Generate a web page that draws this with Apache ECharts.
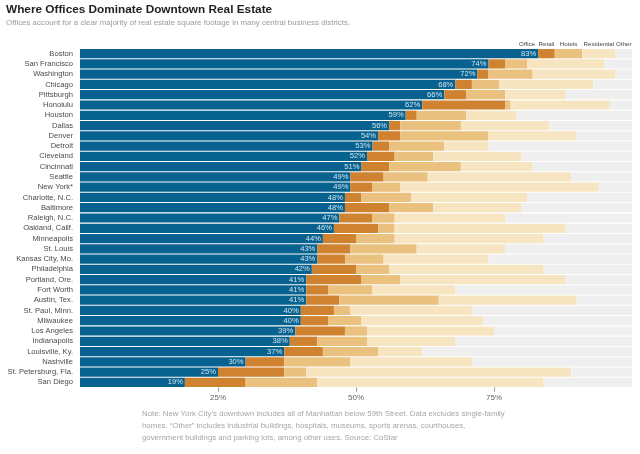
<!DOCTYPE html>
<html>
<head>
<meta charset="utf-8">
<script src="https://cdn.jsdelivr.net/npm/echarts@6/dist/echarts.min.js"></script>
<style>
html, body { margin: 0; padding: 0; background: #fff; }
#chart { width: 640px; height: 454px; }
</style>
</head>
<body>
<div id="chart"></div>
<script>
// share of downtown square footage, %
var cities = ['Boston', 'San Francisco', 'Washington', 'Chicago', 'Pittsburgh', 'Honolulu', 'Houston', 'Dallas',
    'Denver', 'Detroit', 'Cleveland', 'Cincinnati', 'Seattle', 'New York*', 'Charlotte, N.C.', 'Baltimore',
    'Raleigh, N.C.', 'Oakland, Calif.', 'Minneapolis', 'St. Louis', 'Kansas City, Mo.', 'Philadelphia',
    'Portland, Ore.', 'Fort Worth', 'Austin, Tex.', 'St. Paul, Minn.', 'Milwaukee', 'Los Angeles',
    'Indianapolis', 'Louisville, Ky.', 'Nashville', 'St. Petersburg, Fla.', 'San Diego'];
var office      = [83, 74, 72, 68, 66, 62, 59, 56, 54, 53, 52, 51, 49, 49, 48, 48, 47, 46, 44, 43, 43, 42, 41, 41, 41, 40, 40, 39, 38, 37, 30, 25, 19];
var retail      = [3, 3, 2, 3, 4, 15, 2, 2, 4, 3, 5, 5, 6, 4, 3, 8, 6, 8, 6, 6, 5, 8, 10, 4, 6, 6, 5, 9, 5, 7, 7, 12, 11];
var hotels      = [5, 4, 8, 5, 7, 1, 9, 11, 16, 10, 7, 13, 8, 5, 9, 8, 4, 3, 7, 12, 7, 6, 7, 8, 18, 3, 6, 4, 9, 10, 12, 4, 13];
var residential = [6, 14, 15, 17, 11, 18, 9, 16, 16, 8, 16, 13, 26, 36, 21, 16, 20, 31, 27, 16, 19, 28, 30, 15, 25, 22, 22, 23, 16, 8, 22, 48, 41];
var other       = [3, 5, 3, 7, 12, 4, 21, 15, 10, 26, 20, 18, 11, 6, 19, 20, 23, 12, 16, 23, 26, 16, 12, 32, 10, 29, 27, 25, 32, 38, 29, 11, 16];
var seriesNames = ['Office', 'Retail', 'Hotels', 'Residential', 'Other'];
var tickValues = [25, 50, 75];

var font = "'Liberation Sans', Arial, sans-serif";
var colors = ['#07628f', '#cf8230', '#ebc17f', '#f7e5c2', '#efefef'];

var chart = echarts.init(document.getElementById('chart'));

var values = [office, retail, hotels, residential, other];
var ss = [];
for (var i = 0; i < values.length; i++) {
    ss.push({
        name: seriesNames[i],
        type: 'bar',
        stack: 'total',
        barCategoryGap: '10%',
        silent: true,
        itemStyle: { color: colors[i] },
        label: i === 0 ? {
            show: true,
            position: 'insideRight',
            distance: 2,
            formatter: '{c}%',
            color: '#d4e4ee',
            fontFamily: font,
            fontSize: 7.6
        } : { show: false },
        data: values[i]
    });
}

var note = 'Note: New York City\u2019s downtown includes all of Manhattan below 59th Street. Data excludes single-family\n' +
    'homes. \u201cOther\u201d includes industrial buildings, hospitals, museums, sports arenas, courthouses,\n' +
    'government buildings and parking lots, among other uses. Source: CoStar';

var option = {
    animation: false,
    grid: { left: 80, right: 8, top: 48.5, bottom: 66.5, outerBoundsMode: 'none', containLabel: false },
    xAxis: {
        type: 'value',
        min: 0,
        max: 100,
        interval: 25,
        splitLine: { show: false },
        axisLine: { show: false },
        axisTick: { show: true, length: 4, customValues: tickValues, lineStyle: { color: '#999' } },
        axisLabel: { customValues: tickValues, formatter: '{value}%', margin: 6, color: '#666', fontSize: 8, fontFamily: font }
    },
    yAxis: {
        type: 'category',
        inverse: true,
        data: cities,
        axisLine: { show: false },
        axisTick: { show: false },
        axisLabel: { interval: 0, margin: 7, color: '#4a4a4a', fontSize: 7.6, fontFamily: font }
    },
    series: ss
};

chart.setOption(option);

// title, subtitle, note and segment names above the first row
var texts = [{
    type: 'text',
    x: 6,
    y: 10,
    style: { text: 'Where Offices Dominate Downtown Real Estate', fill: '#222', fontSize: 11.8, fontWeight: 'bold',
        fontFamily: font, verticalAlign: 'middle' }
}, {
    type: 'text',
    x: 6,
    y: 22.5,
    style: { text: 'Offices account for a clear majority of real estate square footage in many central business districts.',
        fill: '#9a9a9a', fontSize: 7.9, fontFamily: font, verticalAlign: 'middle' }
}, {
    type: 'text',
    x: 142,
    y: 408,
    style: { text: note, fill: '#a6a6a6', fontSize: 7.8, lineHeight: 12, fontFamily: font }
}];
var acc = 0;
for (var k = 0; k < values.length; k++) {
    var start = acc;
    acc += values[k][0];
    var x0 = chart.convertToPixel({ gridIndex: 0 }, [start, 0])[0];
    var x1 = chart.convertToPixel({ gridIndex: 0 }, [acc, 0])[0];
    texts.push({
        type: 'text',
        x: k === 0 ? x1 - 3 : (x0 + x1) / 2,
        y: 44,
        style: {
            text: seriesNames[k],
            fill: '#444',
            fontSize: 6.2,
            fontFamily: font,
            align: k === 0 ? 'right' : 'center',
            verticalAlign: 'middle'
        }
    });
}
chart.setOption({ graphic: texts });
</script>
</body>
</html>
